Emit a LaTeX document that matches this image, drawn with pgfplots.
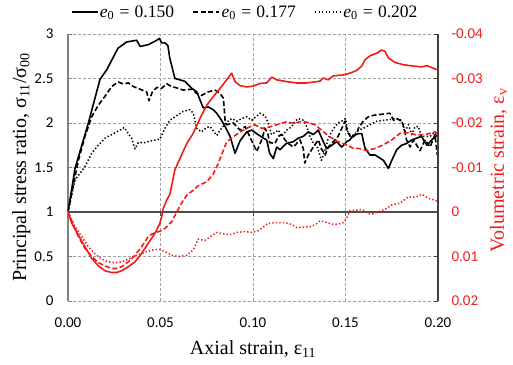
\documentclass[border=0pt]{standalone}
\usepackage{fontspec}
\setmainfont{Liberation Serif}
\newfontfamily\calibri{Carlito}
\usepackage{pgfplots}
\pgfplotsset{compat=1.18}
\definecolor{myred}{RGB}{245,25,25}
\definecolor{gridgray}{RGB}{160,160,160}
\begin{document}
\begin{tikzpicture}
\pgfplotsset{
  base/.style={width=370pt,height=267pt,scale only axis,xmin=0,xmax=0.2,
    /pgf/number format/assume math mode=true,
    scaled x ticks=false, scaled y ticks=false,
    tick label style={font=\calibri\fontsize{15}{17}\selectfont},
    major tick length=4pt,
    every axis plot/.append style={line join=round},
  },
  lsolid/.style={line width=1.6pt},
  ldash/.style={line width=1.6pt,dash pattern=on 5pt off 2.5pt},
  ldot/.style={line width=1.5pt,dash pattern=on 1.4pt off 2.1pt},
}
\begin{axis}[base,name=ax,
  ymin=0,ymax=3,
  ytick={0,0.5,1,1.5,2,2.5,3}, yticklabels={0,0.5,1,1.5,2,2.5,3},
  xtick={0,0.05,0.1,0.15,0.2}, xticklabels={0.00,0.05,0.10,0.15,0.20},
  axis y line*=left, axis x line*=bottom,
  x axis line style={draw=none},
  y axis line style={-,draw=gray,line width=1.2pt},
  xtick style={draw=none}, ytick style={gray,line width=0.8pt},
  grid=major, major grid style={gridgray,dash pattern=on 3pt off 2pt,line width=0.7pt},
  xticklabel style={yshift=-13pt},
  yticklabel style={xshift=-11pt},
  xlabel={Axial strain, ε\textsubscript{11}},
  xlabel style={at={(axis description cs:0.5,0)},anchor=base,inner sep=0pt,yshift=-53pt,font=\fontsize{20}{22}\selectfont},
  ylabel={Principal stress ratio, σ\textsubscript{11}/σ\textsubscript{00}},
  ylabel style={at={(axis description cs:-0.113,0.5)},anchor=base,inner sep=0pt,font=\fontsize{20}{22}\selectfont},
  legend columns=3,
  legend image code/.code={\draw[#1] (0pt,0pt) -- (26pt,0pt);},
  legend style={at={(axis description cs:0.478,1.082)},anchor=center,draw=none,fill=none,
    font=\fontsize{17.5}{19}\selectfont, nodes={inner sep=1.5pt},
    /tikz/every even column/.append style={column sep=17pt}},
  legend cell align=left,
]
\addplot[black,lsolid] coordinates {
(0,1) (0.0038,1.49) (0.011,2.00) (0.0173,2.49) (0.021,2.60) (0.027,2.84) (0.0317,2.91)
(0.0344,2.92) (0.0371,2.93) (0.039,2.86) (0.0434,2.88) (0.048,2.93) (0.0494,2.95)
(0.0506,2.90) (0.0524,2.90) (0.054,2.87) (0.055,2.73) (0.0578,2.50) (0.063,2.47)
(0.0669,2.39) (0.0696,2.35) (0.0731,2.17) (0.0758,2.18) (0.0785,2.15) (0.0804,2.11)
(0.083,2.03) (0.0849,1.96) (0.0876,1.85) (0.0903,1.66) (0.093,1.80) (0.0966,1.90)
(0.0993,1.92) (0.102,1.88) (0.1056,1.83) (0.1074,1.81) (0.109,1.66) (0.111,1.60)
(0.1128,1.73) (0.1146,1.70) (0.118,1.77) (0.1218,1.79) (0.1245,1.83) (0.1272,1.85)
(0.1299,1.90) (0.1326,1.87) (0.1353,1.92) (0.138,1.79) (0.1398,1.71) (0.1425,1.75)
(0.1452,1.79) (0.148,1.73) (0.1506,1.79) (0.1524,1.81) (0.1542,1.86) (0.157,1.88)
(0.1588,1.88) (0.1605,1.72) (0.1632,1.64) (0.166,1.64) (0.1705,1.58) (0.1732,1.49)
(0.175,1.58) (0.1777,1.70) (0.1803,1.75) (0.183,1.77) (0.1858,1.81) (0.1885,1.83)
(0.191,1.85) (0.194,1.75) (0.1966,1.81) (0.2,1.87)
};
\addlegendentry{\textit{e}\textsubscript{0}\hspace{0.3em}=\hspace{0.3em}0.150}
\addplot[black,ldash] coordinates {
(0,1) (0.0056,1.58) (0.0092,1.85) (0.0128,2.07) (0.0164,2.20) (0.02,2.30) (0.0236,2.41)
(0.0272,2.46) (0.0299,2.44) (0.0326,2.45) (0.0353,2.41) (0.0389,2.38) (0.0425,2.35)
(0.0438,2.25) (0.0456,2.35) (0.048,2.40) (0.0506,2.39) (0.0534,2.44) (0.056,2.41)
(0.0596,2.39) (0.0623,2.37) (0.0669,2.38) (0.0696,2.33) (0.0722,2.31) (0.0758,2.35)
(0.0795,2.37) (0.0822,2.33) (0.084,2.28) (0.0849,2.03) (0.0858,1.98) (0.0894,2.00)
(0.093,1.92) (0.0957,1.96) (0.0975,1.88) (0.102,1.68) (0.1047,1.81) (0.1065,1.94)
(0.108,1.88) (0.109,1.78) (0.1119,1.77) (0.1137,1.85) (0.1155,1.87) (0.1173,1.81)
(0.119,1.77) (0.1218,1.73) (0.1254,1.81) (0.1272,1.71) (0.128,1.55) (0.1299,1.64)
(0.1326,1.73) (0.1353,1.81) (0.137,1.71) (0.139,1.64) (0.1407,1.73) (0.1434,1.79)
(0.146,1.85) (0.148,1.94) (0.1497,2.02) (0.151,1.90) (0.1533,1.83) (0.156,1.88)
(0.157,1.94) (0.1596,2.02) (0.1623,2.07) (0.166,2.09) (0.1705,2.10) (0.174,2.11)
(0.176,2.03) (0.1777,2.05) (0.1795,2.03) (0.1812,1.98) (0.183,1.81) (0.1849,1.73)
(0.1867,1.81) (0.1903,1.69) (0.193,1.81) (0.1957,1.73) (0.1984,1.87) (0.1996,1.64)
};
\addlegendentry{\textit{e}\textsubscript{0}\hspace{0.3em}=\hspace{0.3em}0.177}
\addplot[black,ldot] coordinates {
(0,1) (0.0038,1.36) (0.0092,1.51) (0.0128,1.66) (0.0164,1.75) (0.02,1.83) (0.0245,1.88)
(0.0281,1.92) (0.0304,1.95) (0.0326,1.88) (0.0344,1.83) (0.0362,1.71) (0.038,1.78)
(0.0416,1.78) (0.0452,1.80) (0.0497,1.82) (0.0524,1.94) (0.055,2.03) (0.0578,2.07)
(0.0623,2.13) (0.066,2.15) (0.0677,2.11) (0.0696,1.94) (0.0722,1.90) (0.075,1.95)
(0.0768,1.96) (0.0804,1.86) (0.0822,1.92) (0.0858,2.01) (0.0885,2.05) (0.0912,2.02)
(0.0939,2.05) (0.0966,2.07) (0.0993,2.03) (0.1038,2.11) (0.1065,2.08) (0.108,2.01)
(0.110,1.87) (0.1137,1.92) (0.1155,1.85) (0.1182,1.92) (0.121,1.96) (0.1227,2.02)
(0.1245,2.05) (0.1272,2.03) (0.129,1.96) (0.1308,1.85) (0.1326,1.77) (0.135,1.72)
(0.137,1.58) (0.139,1.70) (0.1407,1.83) (0.1425,1.90) (0.1443,1.96) (0.146,2.00)
(0.1488,2.03) (0.150,2.05) (0.1515,1.88) (0.1542,1.86) (0.157,1.92) (0.1596,1.94)
(0.1632,1.98) (0.1669,2.02) (0.1705,2.03) (0.174,2.04) (0.1777,2.05) (0.1803,2.03)
(0.182,1.90) (0.184,1.98) (0.1858,1.87) (0.1876,1.96) (0.1894,1.96) (0.191,1.85)
(0.1957,1.85) (0.1984,1.90) (0.2,1.87)
};
\addlegendentry{\textit{e}\textsubscript{0}\hspace{0.3em}=\hspace{0.3em}0.202}
\end{axis}

\begin{axis}[base,
  ymin=-0.04,ymax=0.02, y dir=reverse,
  axis y line*=right, axis x line*=middle,
  hide obscured x ticks=false, hide obscured y ticks=false,
  xtick={0.05,0.1,0.15}, xticklabels={},
  ytick={-0.04,-0.03,-0.02,-0.01,0,0.01,0.02},
  yticklabels={-0.04,-0.03,-0.02,-0.01,0,0.01,0.02},
  yticklabel style={myred,xshift=10pt},
  y axis line style={-,draw=black!75,line width=1.2pt},
  x axis line style={-,draw=black!70,line width=1.2pt},
  ytick style={black!75,line width=0.8pt}, xtick style={black!70,line width=0.8pt},
  ylabel={Volumetric strain, ε\textsubscript{v}},
  ylabel style={at={(axis description cs:1.178,0.49)},anchor=base,inner sep=0pt,myred,font=\fontsize{20}{22}\selectfont},
]
\addplot[myred,lsolid] coordinates {
(0,0) (0.002,0.0025) (0.0056,0.0052) (0.0092,0.0078) (0.0128,0.0104) (0.0164,0.0121)
(0.02,0.0132) (0.0236,0.0136) (0.0263,0.0136) (0.029,0.0132) (0.0326,0.0123)
(0.0362,0.0112) (0.0398,0.0093) (0.0434,0.0070) (0.047,0.0048) (0.0497,0.0025)
(0.0506,0.0011) (0.0515,-0.0008) (0.0534,-0.0027) (0.0551,-0.0040) (0.0578,-0.0095)
(0.0605,-0.012) (0.0642,-0.0154) (0.0677,-0.0177) (0.0714,-0.0211) (0.075,-0.024)
(0.0785,-0.0259) (0.0822,-0.0278) (0.0858,-0.0297) (0.0885,-0.0312) (0.0903,-0.0293)
(0.093,-0.0284) (0.0966,-0.0281) (0.1002,-0.0283) (0.1038,-0.0289) (0.1074,-0.0290)
(0.1101,-0.0303) (0.1128,-0.0297) (0.1182,-0.0293) (0.1236,-0.0290) (0.129,-0.0290)
(0.1344,-0.0293) (0.1362,-0.0294) (0.138,-0.0301) (0.1407,-0.0297) (0.1434,-0.0306)
(0.1488,-0.0308) (0.1524,-0.0312) (0.156,-0.0318) (0.1588,-0.0328) (0.1605,-0.0342)
(0.1632,-0.0351) (0.1669,-0.0357) (0.1696,-0.0364) (0.1714,-0.0361) (0.1732,-0.0346)
(0.1768,-0.0336) (0.1812,-0.0331) (0.1866,-0.0328) (0.1912,-0.0326) (0.194,-0.0329)
(0.1975,-0.0323) (0.2,-0.0319)
};
\addplot[myred,ldash] coordinates {
(0,0) (0.0056,0.0055) (0.0092,0.0082) (0.0128,0.0100) (0.0164,0.0114) (0.02,0.0121)
(0.0236,0.0127) (0.0263,0.0127) (0.029,0.0123) (0.0326,0.0112) (0.0362,0.0097)
(0.0398,0.0078) (0.0434,0.0055) (0.0461,0.0048) (0.0497,0.0043) (0.0524,0.0037)
(0.056,0.0022) (0.0588,0.0) (0.0614,-0.0020) (0.0642,-0.0038) (0.0677,-0.0049)
(0.0704,-0.0059) (0.075,-0.0068) (0.0785,-0.0085) (0.0812,-0.0109) (0.084,-0.0139)
(0.0858,-0.0158) (0.0894,-0.0169) (0.093,-0.0180) (0.0975,-0.0190) (0.1011,-0.0196)
(0.1047,-0.0188) (0.108,-0.0190) (0.1128,-0.0196) (0.1182,-0.0203) (0.1218,-0.0199)
(0.1254,-0.0203) (0.129,-0.0202) (0.1335,-0.0196) (0.137,-0.0184) (0.1415,-0.0169)
(0.146,-0.0158) (0.1506,-0.0151) (0.1542,-0.0143) (0.157,-0.0143) (0.1615,-0.0138)
(0.166,-0.0143) (0.1705,-0.0151) (0.175,-0.0162) (0.1795,-0.0177) (0.184,-0.0178)
(0.1885,-0.0173) (0.194,-0.0175) (0.1984,-0.0180) (0.2,-0.0173)
};
\addplot[myred,ldot] coordinates {
(0,0) (0.0038,0.0033) (0.0074,0.0055) (0.011,0.0078) (0.0146,0.0094) (0.0182,0.0106)
(0.0218,0.0112) (0.0254,0.0114) (0.029,0.0112) (0.0326,0.0106) (0.0353,0.0100)
(0.0389,0.0095) (0.0425,0.0089) (0.0461,0.0085) (0.0497,0.0084) (0.0524,0.0089)
(0.056,0.0097) (0.0596,0.0100) (0.0642,0.0097) (0.0677,0.0085) (0.0704,0.0061)
(0.074,0.0064) (0.0777,0.0053) (0.0804,0.0046) (0.0849,0.0050) (0.0885,0.0050)
(0.0912,0.0046) (0.0957,0.0044) (0.0993,0.0046) (0.1029,0.0042) (0.1065,0.0031)
(0.1083,0.0025) (0.1128,0.0024) (0.1173,0.0024) (0.121,0.0028) (0.1236,0.0035)
(0.1272,0.0034) (0.1308,0.0033) (0.1335,0.0029) (0.1362,0.0020) (0.1389,0.0022)
(0.1425,0.0027) (0.1461,0.0027) (0.1488,0.0024) (0.1506,0.0014) (0.1524,-0.0003)
(0.156,-0.0004) (0.1588,-0.0006) (0.1605,-0.0002) (0.1623,0.0004) (0.165,0.0004)
(0.1686,-0.0002) (0.1714,-0.0006) (0.175,-0.0016) (0.1795,-0.0020) (0.184,-0.0034)
(0.1876,-0.0033) (0.1912,-0.0040) (0.1948,-0.0031) (0.1993,-0.0025) (0.2,-0.0020)
};
\end{axis}
\pgfresetboundingbox
\path ([shift={(-68pt,-63pt)}]ax.south west) rectangle ([shift={(75pt,34pt)}]ax.north east);
\end{tikzpicture}
\end{document}
